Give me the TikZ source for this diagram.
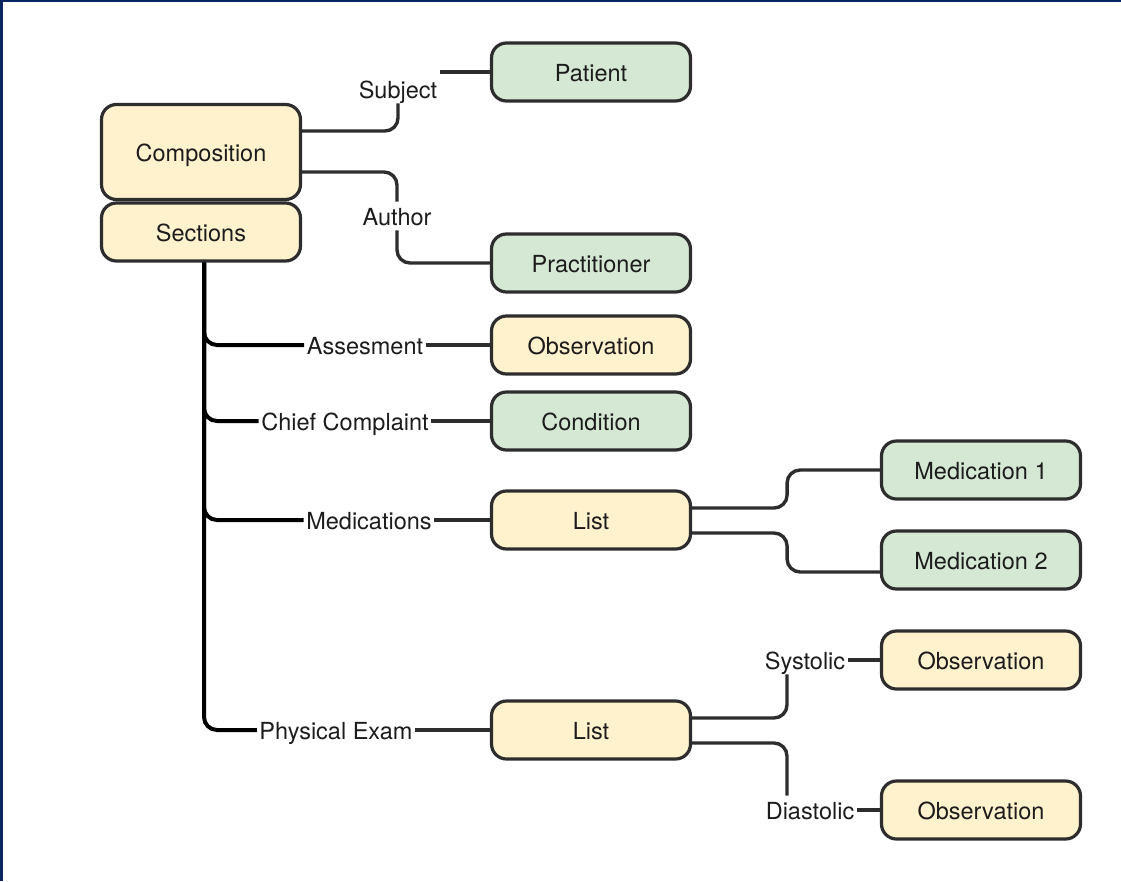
\documentclass[tikz,border=0pt]{standalone}
\usepackage{fontspec}
\setmainfont{TeX Gyre Heros}
\definecolor{boxyellow}{RGB}{255,242,204}
\definecolor{boxgreen}{RGB}{213,232,212}
\definecolor{edgegray}{RGB}{45,45,45}
\definecolor{textgray}{RGB}{28,28,28}
\definecolor{framenavy}{RGB}{10,36,96}
\begin{document}
\begin{tikzpicture}[x=1pt,y=-1pt,
  box/.style={draw=edgegray, line width=3.2pt, rounded corners=15pt,
    minimum width=199pt, minimum height=58pt, inner sep=0pt,
    text height=21pt, text depth=2.5pt,
    font=\fontsize{23.5}{28}\selectfont, text=textgray},
  yellowbox/.style={box, fill=boxyellow},
  greenbox/.style={box, fill=boxgreen},
  lbl/.style={inner sep=2.5pt, text height=21pt, text depth=2.5pt,
    font=\fontsize{23.5}{28}\selectfont, text=textgray},
  conn/.style={draw=edgegray, line width=3.4pt, rounded corners=13pt},
  trunk/.style={conn, draw=black, line width=4pt}]

% page and frame
\useasboundingbox (0,0) rectangle (1121,881);
\fill[white] (0,0) rectangle (1121,881);
\fill[framenavy] (0,0) rectangle (1121,2);
\fill[framenavy] (0,0) rectangle (3,881);

% resources
\node[yellowbox, minimum height=95pt] (comp) at (201,152) {Composition};
\node[yellowbox] (sect) at (201,232) {Sections};
\node[greenbox]  (pat)  at (591,72)  {Patient};
\node[greenbox]  (prac) at (591,263) {Practitioner};
\node[yellowbox] (obsA) at (591,345) {Observation};
\node[greenbox]  (cond) at (591,421) {Condition};
\node[yellowbox] (listM) at (591,520) {List};
\node[greenbox]  (med1) at (981,470) {Medication 1};
\node[greenbox]  (med2) at (981,560) {Medication 2};
\node[yellowbox] (obsS) at (981,660) {Observation};
\node[yellowbox] (listP) at (591,730) {List};
\node[yellowbox] (obsD) at (981,810) {Observation};

% reference labels
\node[lbl] (subj) at (398,89)  {Subject};
\node[lbl] (auth) at (397,216) {Author};
\node[lbl] (assess) at (365,345) {Assesment};
\node[lbl] (chief) at (345,421) {Chief Complaint};
\node[lbl] (meds) at (369,520) {Medications};
\node[lbl] (phys) at (336,730) {Physical Exam};
\node[lbl] (sys) at (805,660) {Systolic};
\node[lbl] (dia) at (810,810) {Diastolic};

% composition references
\draw[conn] ([yshift=21pt]comp.east) -| (subj.south);
\draw[conn] (subj.east |- pat.west) -- (pat.west);
\draw[conn] ([yshift=-20pt]comp.east) -| (auth.north);
\draw[conn] (auth.south) |- (prac.west);

% sections
\draw[trunk] ([xshift=3pt]sect.south) |- (assess.west);
\draw[trunk] ([xshift=3pt]sect.south) |- (chief.west);
\draw[trunk] ([xshift=3pt]sect.south) |- (meds.west);
\draw[trunk] ([xshift=3pt]sect.south) |- (phys.west);
\draw[conn] (assess.east) -- (assess.east -| obsA.west);
\draw[conn] (chief.east) -- (chief.east -| cond.west);
\draw[conn] (meds.east) -- (meds.east -| listM.west);
\draw[conn] (phys.east) -- (phys.east -| listP.west);

% medication list entries
\draw[conn] ([yshift=12pt]listM.east) -- ++(95,0) |- (med1.west);
\draw[conn] ([yshift=-13pt]listM.east) -- ++(95,0) |- ([yshift=-12pt]med2.west);

% vital sign entries
\draw[conn] ([yshift=12pt]listP.east) -| ([xshift=-18pt]sys.south);
\draw[conn] (sys.east) -- (sys.east -| obsS.west);
\draw[conn] ([yshift=-13pt]listP.east) -| ([xshift=-23pt]dia.north);
\draw[conn] (dia.east) -- (dia.east -| obsD.west);
\end{tikzpicture}
\end{document}
